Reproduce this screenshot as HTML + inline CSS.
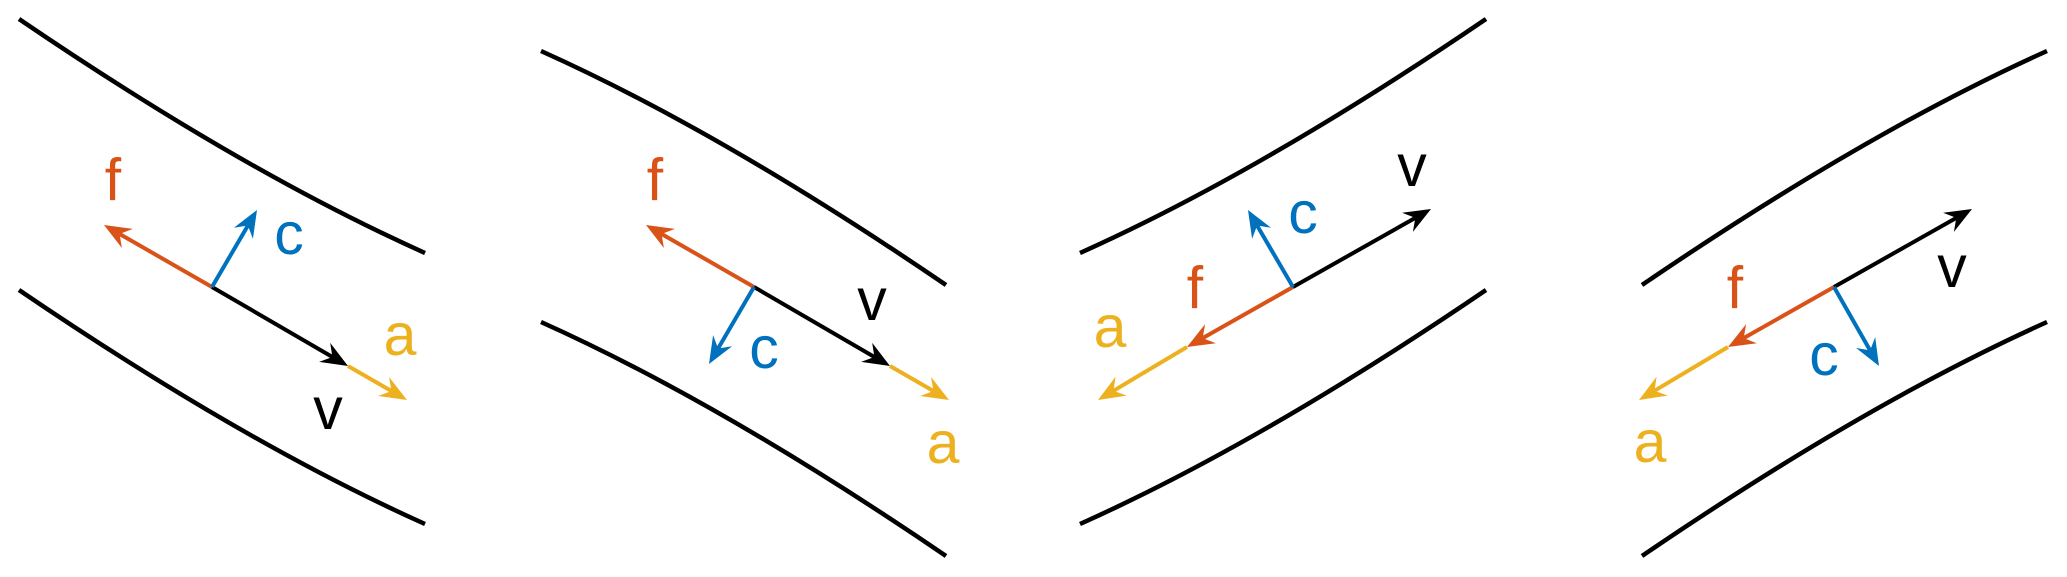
<!DOCTYPE html>
<html><head><meta charset="utf-8"><style>
html,body{margin:0;padding:0;background:#fff;}
svg{display:block;}
text{font-family:"Liberation Sans",Arial,sans-serif;font-size:59px;text-anchor:middle;}
</style></head><body>
<svg id="s" width="2067" height="577" viewBox="0 0 2067 577" xmlns="http://www.w3.org/2000/svg">
<g fill="none" stroke="#000" stroke-width="4.5">
<path d="M19,19 Q244,172 425,253"/>
<path d="M19,290 Q244,443 425,524"/>
<path d="M541,51 Q721.5,132 946,285"/>
<path d="M541,322 Q721.5,403 946,556"/>
<path d="M1486,19 Q1261,172 1080,253"/>
<path d="M1486,290 Q1261,443 1080,524"/>
<path d="M2047,51 Q1866.5,132 1642,285"/>
<path d="M2047,322 Q1866.5,403 1642,556"/>
</g>
<g id="vec"></g>
<g>
<text x="113" y="200" fill="#D95319">f</text>
<text x="289" y="254" fill="#0072BD">c</text>
<text x="328" y="429" fill="#000">v</text>
<text x="400" y="355" fill="#EDB120">a</text>

<text x="655" y="200" fill="#D95319">f</text>
<text x="764" y="368" fill="#0072BD">c</text>
<text x="872" y="320" fill="#000">v</text>
<text x="943" y="463" fill="#EDB120">a</text>

<text x="1195" y="308" fill="#D95319">f</text>
<text x="1303" y="233" fill="#0072BD">c</text>
<text x="1412" y="186" fill="#000">v</text>
<text x="1110" y="347" fill="#EDB120">a</text>

<text x="1735" y="308" fill="#D95319">f</text>
<text x="1824" y="375" fill="#0072BD">c</text>
<text x="1952" y="287" fill="#000">v</text>
<text x="1650" y="462" fill="#EDB120">a</text>
</g>
</svg>
<script>
var F="#D95319",C="#0072BD",A="#EDB120",V="#000";
var arrows=[
 [212,287,104,225,F],[212,287,348,366,V],[348,366,407,400,A],[212,287,257,210,C],
 [754,287,646,225,F],[754,287,890,366,V],[890,366,949,400,A],[754,287,709,364,C],
 [1293,287,1431,209,V],[1293,287,1187,347,F],[1187,347,1098,400,A],[1293,287,1248,210,C],
 [1834,287,1972,209,V],[1834,287,1728,347,F],[1728,347,1639,400,A],[1834,287,1879,366,C]
];
var g=document.getElementById("vec"),h="";
arrows.forEach(function(a){
 var x1=a[0],y1=a[1],x2=a[2],y2=a[3],col=a[4];
 var dx=x2-x1,dy=y2-y1,L=Math.sqrt(dx*dx+dy*dy),ux=dx/L,uy=dy/L,nx=-uy,ny=ux;
 var hl=27,hw=11,nl=18;
 var ex=x2-ux*nl,ey=y2-uy*nl;
 h+='<line x1="'+x1+'" y1="'+y1+'" x2="'+ex+'" y2="'+ey+'" stroke="'+col+'" stroke-width="4"/>';
 var p=[[x2,y2],[x2-ux*hl+nx*hw,y2-uy*hl+ny*hw],[ex,ey],[x2-ux*hl-nx*hw,y2-uy*hl-ny*hw]];
 h+='<polygon points="'+p.map(function(q){return q[0].toFixed(1)+","+q[1].toFixed(1)}).join(" ")+'" fill="'+col+'"/>';
});
g.innerHTML=h;
</script>
</body></html>
